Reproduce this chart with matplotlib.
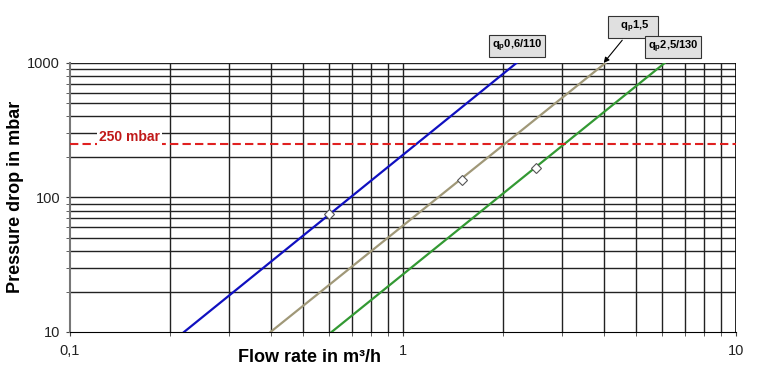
import matplotlib.pyplot as plt
from matplotlib.ticker import FixedLocator, NullFormatter

plt.rcParams['font.family'] = ['Liberation Sans', 'DejaVu Sans']

# curve endpoints (flow m3/h, pressure mbar)
blue_flow = [0.22, 2.19]
blue_dp = [10, 1000]
brown_flow = [0.40, 4.05]
brown_dp = [10, 1000]
green_flow = [0.61, 6.1]
green_dp = [10, 1000]

# nominal points
pt_flow = [0.6, 1.5, 2.5]
pt_dp = [75, 135, 166]

limit_dp = 250
labels = [r'q$_\mathregular{p}$0,6/110', r'   q$_\mathregular{p}$1,5   ', r'q$_\mathregular{p}$2,5/130']

fig = plt.figure(figsize=(7.58, 3.86), dpi=100)
ax = fig.add_axes([0.0923, 0.1399, 0.879, 0.697])
ax.set_xscale('log')
ax.set_yscale('log')
ax.set_xlim(0.1, 10)
ax.set_ylim(10, 1000)

# grid
xminor = [m * d for d in (0.1, 1) for m in range(2, 10)]
yminor = [m * d for d in (10, 100) for m in range(2, 10)]
for v in xminor + [1]:
    ax.axvline(v, color='#222222', lw=1, zorder=1)
for v in yminor + [100, 1000]:
    ax.axhline(v, color='#222222', lw=1, zorder=1)
ax.axvline(10, color='black', lw=1.2, zorder=1)

ax.plot(blue_flow, blue_dp, color='#1010c0', lw=1.6, zorder=3)
ax.plot(brown_flow, brown_dp, color='#a09878', lw=1.6, zorder=3)
ax.plot(green_flow, green_dp, color='#339933', lw=1.6, zorder=3)
ax.plot(pt_flow, pt_dp, 'D', ms=5, mfc='white', mec='#555555', mew=0.8, ls='none', zorder=4)

ax.axhline(limit_dp, color='#e02020', lw=1.5, ls=(0, (4, 2)), zorder=3)
ax.text(0.151, limit_dp * 1.13, '250 mbar', color='#c01818', fontsize=10, fontweight='bold',
        ha='center', va='center', zorder=5,
        bbox=dict(facecolor='white', edgecolor='none', pad=1.5))

ax.xaxis.set_major_locator(FixedLocator([0.1, 1, 10]))
ax.xaxis.set_minor_locator(FixedLocator(xminor))
ax.xaxis.set_minor_formatter(NullFormatter())
ax.set_xticklabels(['0,1', '1', '10'])
ax.yaxis.set_major_locator(FixedLocator([10, 100, 1000]))
ax.yaxis.set_minor_locator(FixedLocator(yminor))
ax.yaxis.set_minor_formatter(NullFormatter())
ax.set_yticklabels(['10', '100', '1000'])
ax.tick_params(axis='both', which='both', length=3, direction='out', labelsize=10.5,
               color='#444444', labelcolor='#222222')
ax.tick_params(axis='x', which='major', pad=6)
ax.tick_params(axis='y', which='major', pad=4)

for s in ['top', 'right']:
    ax.spines[s].set_visible(False)
ax.spines['left'].set_color('#777777')
ax.spines['left'].set_linewidth(1.5)
ax.spines['bottom'].set_color('black')

box = dict(boxstyle='square,pad=0.22', facecolor='#e0e0e0', edgecolor='#333333', lw=0.8)
ax.annotate(labels[0], xy=(2.0, 1000), xytext=(517, 340), textcoords='figure pixels',
            fontsize=8, fontweight='bold', ha='center', va='center', bbox=box, annotation_clip=False)
ax.annotate(labels[1], xy=(4.0, 1000), xytext=(633, 359), textcoords='figure pixels',
            fontsize=8, fontweight='bold', ha='center', va='center', bbox=box, annotation_clip=False,
            arrowprops=dict(arrowstyle='-|>', color='black', lw=0.8, shrinkA=2, shrinkB=0, mutation_scale=8))
ax.annotate(labels[2], xy=(6.1, 1000), xytext=(673, 339), textcoords='figure pixels',
            fontsize=8, fontweight='bold', ha='center', va='center', bbox=box, annotation_clip=False)

fig.text(310 / 758, 1 - 358 / 386, 'Flow rate in m³/h', fontsize=13, fontweight='bold',
         ha='center', va='center')
fig.text(16 / 758, 1 - 197 / 386, 'Pressure drop in mbar', fontsize=13, fontweight='bold',
         ha='center', va='center', rotation=90)

fig.savefig('out.png', dpi=100)
